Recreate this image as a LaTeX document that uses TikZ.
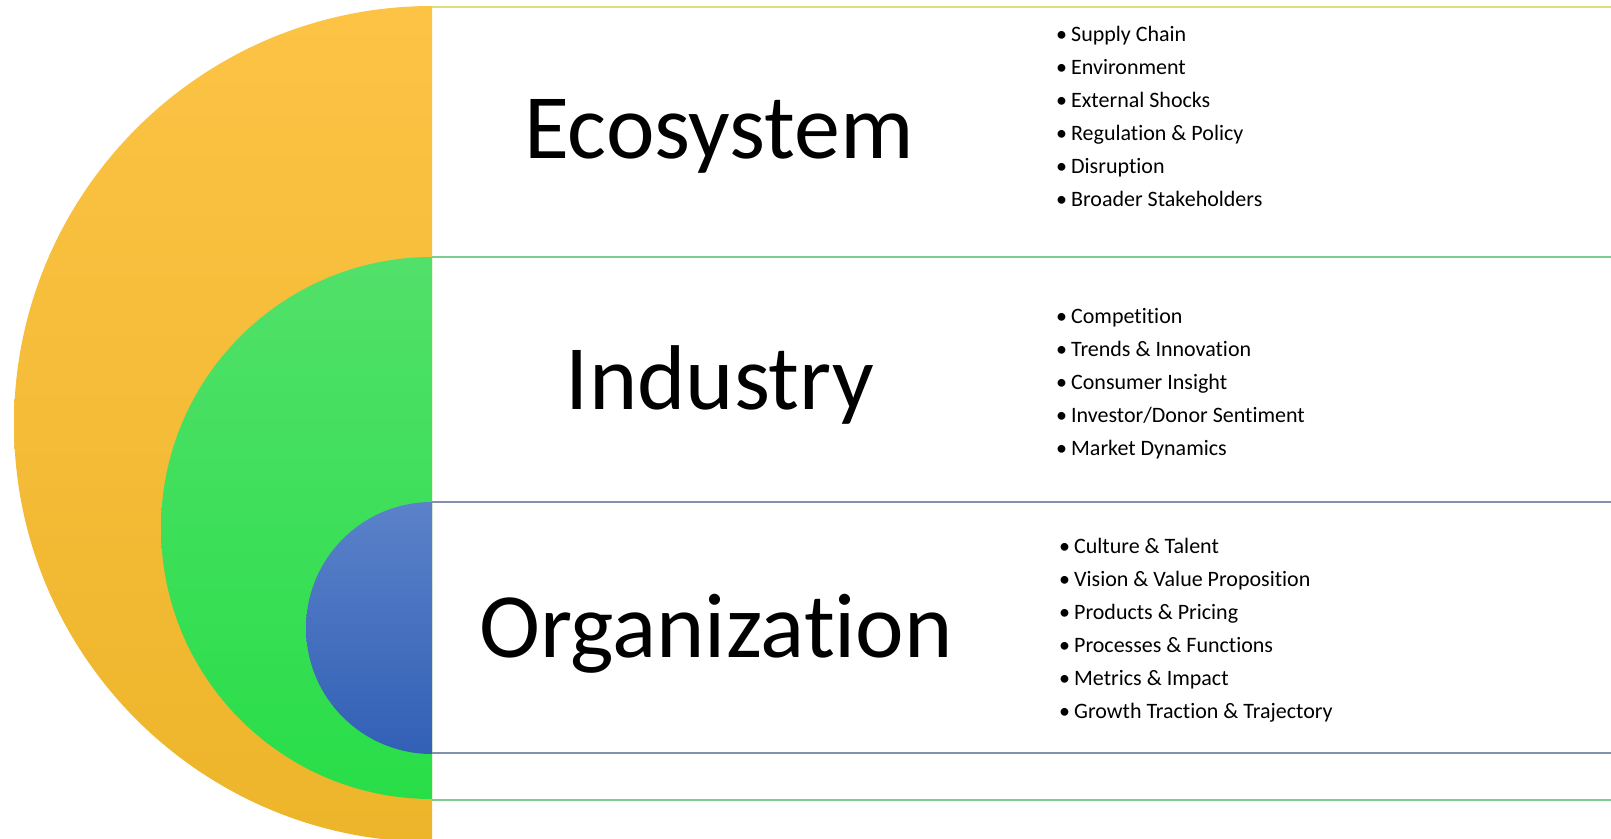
\documentclass[tikz,border=0pt]{standalone}
\usepackage{fontspec}
\setmainfont[Ligatures=NoCommon]{Carlito}

\definecolor{ecoTop}{HTML}{FCC345}
\definecolor{ecoBot}{HTML}{EDB52A}
\definecolor{indTop}{HTML}{52E06A}
\definecolor{indBot}{HTML}{28DE48}
\definecolor{orgTop}{HTML}{5B82C9}
\definecolor{orgBot}{HTML}{3260B6}
\definecolor{ecoLine}{HTML}{DCE07A}
\definecolor{indLine}{HTML}{80CB90}
\definecolor{orgLine}{HTML}{7F93AE}

\tikzset{
  leveltitle/.style={anchor=base, inner sep=0pt, font=\fontsize{92}{96}\selectfont},
  bulletitem/.style={anchor=base west, inner sep=0pt, font=\fontsize{22}{26}\selectfont},
  bandline/.style={line width=2pt},
}

\begin{document}
\begin{tikzpicture}[x=1pt,y=-1pt]
  \useasboundingbox (0,0) rectangle (1611,838);

  % nested half discs
  \begin{scope}
    \clip (0,0) rectangle (432,838);
    \shade[top color=ecoTop, bottom color=ecoBot] (432,424) circle (418);
    \shade[top color=indTop, bottom color=indBot] (432,528) circle (271);
    \shade[top color=orgTop, bottom color=orgBot] (432,628) circle (126);
  \end{scope}

  % band rules
  \draw[bandline, ecoLine] (432,7) -- (1611,7);
  \draw[bandline, indLine] (432,257) -- (1611,257);
  \draw[bandline, orgLine] (432,502) -- (1611,502);
  \draw[bandline, orgLine] (432,753) -- (1611,753);
  \draw[bandline, indLine] (432,800) -- (1611,800);

  % level titles
  \node[leveltitle] (eco) at (719,158) {Ecosystem};
  \node[leveltitle] (ind) at (720,409) {Industry};
  \node[leveltitle] (org) at (716,657) {Organization};

  % bullet lists
  \foreach \txt [count=\i] in {Supply Chain, Environment, External Shocks,
      Regulation \& Policy, Disruption, Broader Stakeholders}
    \node[bulletitem] (eco-\i) at (1056,41+33*\i-33) {\textbullet\hspace{4pt}\txt};
  \foreach \txt [count=\i] in {Competition, Trends \& Innovation, Consumer Insight,
      Investor/Donor Sentiment, Market Dynamics}
    \node[bulletitem] (ind-\i) at (1056,323+33*\i-33) {\textbullet\hspace{4pt}\txt};
  \foreach \txt [count=\i] in {Culture \& Talent, Vision \& Value Proposition,
      Products \& Pricing, Processes \& Functions, Metrics \& Impact,
      Growth Traction \& Trajectory}
    \node[bulletitem] (org-\i) at (1059,553+33*\i-33) {\textbullet\hspace{4pt}\txt};
\end{tikzpicture}
\end{document}
